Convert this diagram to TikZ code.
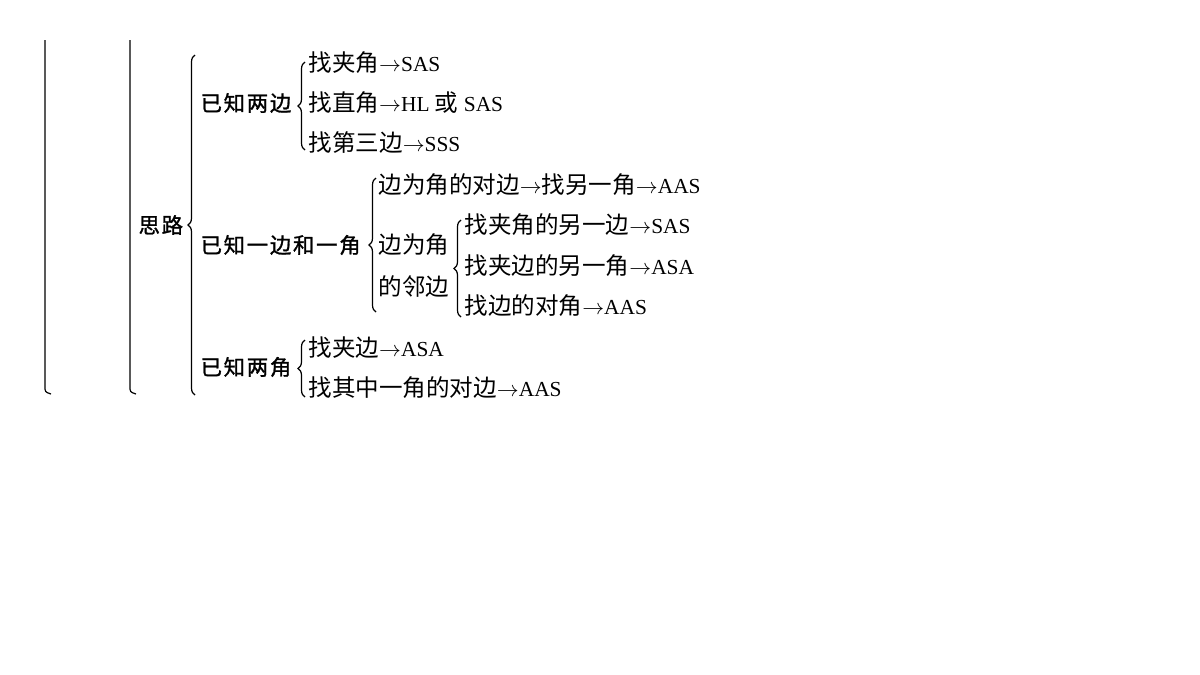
\documentclass[tikz,border=0pt]{standalone}
\usepackage{fontspec}
\setmainfont{Liberation Serif}
\newfontfamily\cjk{Noto Sans CJK SC}[Scale=1.1]
\newfontfamily\cjkhead{Noto Sans CJK SC}[LetterSpace=8,FakeBold=1.2]
\usetikzlibrary{decorations.pathreplacing}

\newcommand{\zh}[1]{{\cjk #1}}
\newcommand{\zhh}[1]{{\cjkhead #1}}
\newcommand{\ra}{$\rightarrow$}

\begin{document}
\begin{tikzpicture}
  [x=0.5pt,y=-0.5pt,line width=0.6pt,
   every node/.style={anchor=west,inner sep=0pt,font=\fontsize{10.7}{21}\selectfont},
   bracepath/.style={decorate,decoration={brace,amplitude=3.5pt}}]
  \useasboundingbox (0,0) rectangle (1200,675);

  % outer lines
  \draw (45,40) -- (45,386) .. controls (45,392) .. (51,394);
  \draw (130,40) -- (130,386) .. controls (130,392) .. (136,394);

  \node (silu) at (138,225) {\zhh{思路}};
  \node (h1) at (200,103) {\zhh{已知两边}};
  \node (h2) at (200,245) {\zhh{已知一边和一角}};
  \node (h3) at (200,367) {\zhh{已知两角}};

  \node (a1) at (308,63)  {\zh{找夹角}\ra SAS};
  \node (a2) at (308,103) {\zh{找直角}\ra HL \zh{或} SAS};
  \node (a3) at (308,143) {\zh{找第三边}\ra SSS};

  \node (b1) at (378,185) {\zh{边为角的对边}\ra\zh{找另一角}\ra AAS};
  \node[align=left] (b2) at (378,266) {\zh{边为角}\\\zh{的邻边}};

  \node (c1) at (464,225) {\zh{找夹角的另一边}\ra SAS};
  \node (c2) at (464,266) {\zh{找夹边的另一角}\ra ASA};
  \node (c3) at (464,306) {\zh{找边的对角}\ra AAS};

  \node (d1) at (308,348) {\zh{找夹边}\ra ASA};
  \node (d2) at (308,388) {\zh{找其中一角的对边}\ra AAS};

  % braces
  \foreach \n/\x/\t/\b in {s/195/55/395, a/305/62/150, b/376/178/312, c/461/220/317, d/305/340/397}
  {
    \coordinate (\n t) at (\x,\t);
    \coordinate (\n b) at (\x,\b);
    \draw[bracepath] (\n b) -- (\n t);
  }

\end{tikzpicture}
\end{document}
